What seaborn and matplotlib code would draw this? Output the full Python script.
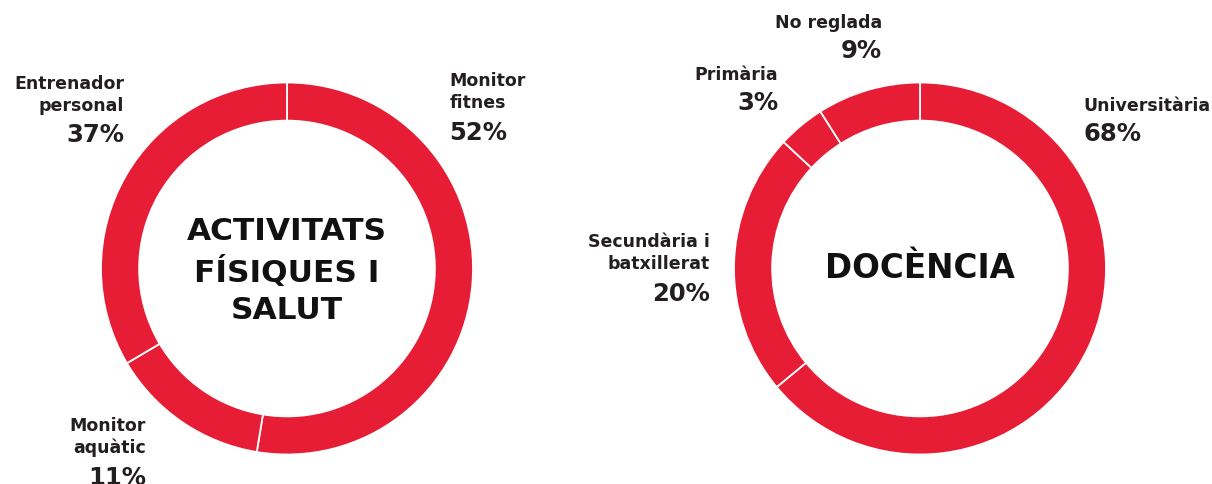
import matplotlib
matplotlib.use("Agg")
import matplotlib.pyplot as plt
import seaborn as sns

# Activitats físiques i salut
af_labels = ["Monitor\nfitnes", "Monitor\naquàtic", "Entrenador\npersonal"]
af_pct = [52, 11, 37]              # printed percentages
af_arc = [52.6, 13.9, 33.5]        # share of the ring as drawn in the chart

# Docència
doc_labels = ["Universitària", "Secundària i\nbatxillerat", "Primària", "No reglada"]
doc_pct = [68, 20, 3, 9]
doc_arc = [64.0, 22.9, 4.1, 9.0]

RED = "#E71D36"
INK = "#231F20"

sns.set_theme(style="white")
plt.rcParams["font.family"] = ["DejaVu Sans"]

W, H = 1212, 484
fig = plt.figure(figsize=(W / 100, H / 100), dpi=100)

R_PX = 186
LIM = 1.3
SIDE = 2 * LIM * R_PX


def donut_axes(cx, cy):
    # cx, cy: centre in pixels from top-left
    left = (cx - SIDE / 2) / W
    bottom = ((H - cy) - SIDE / 2) / H
    return fig.add_axes([left, bottom, SIDE / W, SIDE / H])


def draw_donut(ax, values):
    ax.pie(values, radius=1, startangle=90, counterclock=False,
           colors=[RED] * len(values),
           wedgeprops=dict(width=0.205, edgecolor="white", linewidth=1.3))
    # pie resets the limits, put ours back
    ax.set_xlim(-LIM, LIM)
    ax.set_ylim(-LIM, LIM)
    ax.set_aspect("equal")
    ax.axis("off")


def label(ax, x, y, name, pct, ha):
    ax.text(x, y, name, ha=ha, va="top", fontsize=12.5, color=INK,
            fontweight="semibold", linespacing=1.25, clip_on=False)
    n = name.count("\n") + 1
    ax.text(x, y - n * 0.125 - 0.01, f"{pct}%", ha=ha, va="top", fontsize=17.5,
            color=INK, fontweight="semibold", clip_on=False)


# left donut
ax1 = donut_axes(287, 268.5)
draw_donut(ax1, af_arc)
label(ax1, 0.872, 1.055, af_labels[0], af_pct[0], "left")
label(ax1, -0.757, -0.80, af_labels[1], af_pct[1], "right")
label(ax1, -0.876, 1.04, af_labels[2], af_pct[2], "right")
ax1.text(0, -0.015, "ACTIVITATS\nFÍSIQUES I\nSALUT", ha="center", va="center",
         fontsize=22.5, color="#111111", fontweight="semibold", linespacing=1.36)

# right donut
ax2 = donut_axes(920, 268.5)
draw_donut(ax2, doc_arc)
label(ax2, 0.878, 0.92, doc_labels[0], doc_pct[0], "left")
label(ax2, -1.13, 0.19, doc_labels[1], doc_pct[1], "right")
label(ax2, -0.763, 1.09, doc_labels[2], doc_pct[2], "right")
label(ax2, -0.204, 1.37, doc_labels[3], doc_pct[3], "right")
ax2.text(0, 0, "DOCÈNCIA", ha="center", va="center",
         fontsize=23.5, color="#111111", fontweight="semibold")

fig.savefig("out.png", dpi=100)
